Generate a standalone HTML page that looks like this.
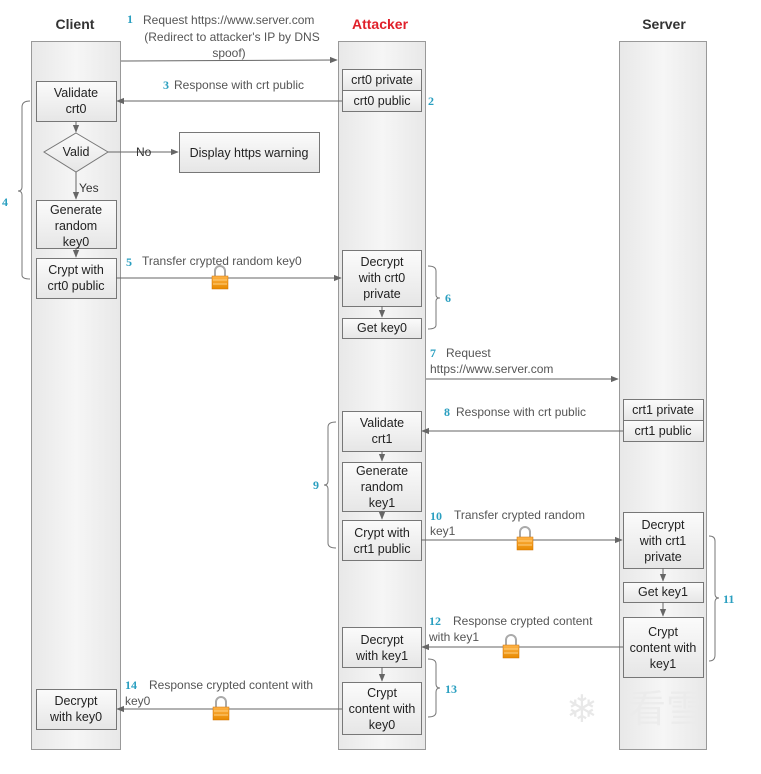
<!DOCTYPE html>
<html><head><meta charset="utf-8"><style>
body{margin:0;background:#fff;width:761px;height:769px;overflow:hidden}
svg{font-family:"Liberation Sans",Arial,sans-serif}
</style></head><body>
<svg width="761" height="769" viewBox="0 0 761 769" xmlns="http://www.w3.org/2000/svg">
<defs>
<linearGradient id="lane" x1="0" x2="1"><stop offset="0" stop-color="#e8e8e8"/><stop offset="0.5" stop-color="#f6f6f6"/><stop offset="1" stop-color="#e8e8e8"/></linearGradient>
<linearGradient id="box" x1="0" y1="0" x2="0" y2="1"><stop offset="0" stop-color="#fbfbfb"/><stop offset="1" stop-color="#e6e6e6"/></linearGradient>
<linearGradient id="lock" x1="0" y1="0" x2="0" y2="1"><stop offset="0" stop-color="#ffb347"/><stop offset="1" stop-color="#e88a00"/></linearGradient>
<marker id="ar" viewBox="0 0 10 10" refX="9" refY="5" markerWidth="8" markerHeight="8" orient="auto"><path d="M0,1 L10,5 L0,9 z" fill="#666"/></marker>
<g id="lk"><path d="M-5,0 v-5 a5,5 0 0 1 10,0 v5" fill="none" stroke="#aaa" stroke-width="2"/><rect x="-8" y="0" width="16" height="13" fill="url(#lock)" stroke="#d07000" stroke-width="0.5"/><line x1="-7" y1="4" x2="7" y2="4" stroke="#ffd080"/><line x1="-7" y1="8" x2="7" y2="8" stroke="#ffd080"/></g>
</defs>
<g stroke="#999" fill="url(#lane)">
<rect x="31.5" y="41.5" width="89" height="708"/>
<rect x="338.5" y="41.5" width="87" height="708"/>
<rect x="619.5" y="41.5" width="87" height="708"/>
</g>
<g font-weight="bold" font-size="14" text-anchor="middle">
<text x="75" y="29" fill="#333">Client</text>
<text x="380" y="29" fill="#e0202a">Attacker</text>
<text x="664" y="29" fill="#333">Server</text>
</g>
<g stroke="#777" fill="url(#box)">
<rect x="36.5" y="81.5" width="80" height="40"/>
<polygon points="76,133 108,152 76,172 44,152"/>
<rect x="179.5" y="132.5" width="140" height="40"/>
<rect x="36.5" y="200.5" width="80" height="48"/>
<rect x="36.5" y="258.5" width="80" height="40"/>
<rect x="36.5" y="689.5" width="80" height="40"/>
<rect x="342.5" y="69.5" width="79" height="21"/>
<rect x="342.5" y="90.5" width="79" height="21"/>
<rect x="342.5" y="250.5" width="79" height="56"/>
<rect x="342.5" y="318.5" width="79" height="20"/>
<rect x="342.5" y="411.5" width="79" height="40"/>
<rect x="342.5" y="462.5" width="79" height="49"/>
<rect x="342.5" y="520.5" width="79" height="40"/>
<rect x="342.5" y="627.5" width="79" height="40"/>
<rect x="342.5" y="682.5" width="79" height="52"/>
<rect x="623.5" y="399.5" width="80" height="21"/>
<rect x="623.5" y="420.5" width="80" height="21"/>
<rect x="623.5" y="512.5" width="80" height="56"/>
<rect x="623.5" y="582.5" width="80" height="20"/>
<rect x="623.5" y="617.5" width="80" height="60"/>
</g>
<g stroke="#666" stroke-width="1" marker-end="url(#ar)" fill="none">
<line x1="121" y1="61" x2="337" y2="60"/>
<line x1="342" y1="101" x2="117" y2="101"/>
<line x1="108" y1="152" x2="178" y2="152"/>
<line x1="116" y1="278" x2="341" y2="278"/>
<line x1="426" y1="379" x2="618" y2="379"/>
<line x1="623" y1="431" x2="422" y2="431"/>
<line x1="421" y1="540" x2="622" y2="540"/>
<line x1="623" y1="647" x2="422" y2="647"/>
<line x1="342" y1="709" x2="117" y2="709"/>
<line x1="76" y1="121" x2="76" y2="132"/>
<line x1="76" y1="172" x2="76" y2="199"/>
<line x1="76" y1="248" x2="76" y2="257"/>
<line x1="382" y1="306" x2="382" y2="317"/>
<line x1="382" y1="451" x2="382" y2="461"/>
<line x1="382" y1="511" x2="382" y2="519"/>
<line x1="382" y1="667" x2="382" y2="681"/>
<line x1="663" y1="568" x2="663" y2="581"/>
<line x1="663" y1="602" x2="663" y2="616"/>
</g>
<g stroke="#777" fill="none">
<path d="M30,101 q-8,0 -8,6 v80 q0,4 -4,4 q4,0 4,4 v80 q0,4 8,4"/>
<path d="M428,266 q8,0 8,5 v24 q0,3 4,3 q-4,0 -4,3 v24 q0,4 -8,4"/>
<path d="M336,422 q-8,0 -8,5 v54 q0,4 -4,4 q4,0 4,4 v54 q0,5 8,5"/>
<path d="M709,536 q6,0 6,5 v53 q0,4 4,4 q-4,0 -4,4 v53 q0,6 -6,6"/>
<path d="M428,659 q8,0 8,5 v20 q0,4 4,4 q-4,0 -4,4 v20 q0,5 -8,5"/>
</g>
<use href="#lk" x="220" y="276"/>
<use href="#lk" x="525" y="537"/>
<use href="#lk" x="511" y="645"/>
<use href="#lk" x="221" y="707"/>
<g font-size="12.5" fill="#222" text-anchor="middle">
<text x="76" y="97">Validate</text><text x="76" y="113">crt0</text>
<text x="76" y="156">Valid</text>
<text x="249" y="157">Display https warning</text>
<text x="76" y="214">Generate</text><text x="76" y="230">random</text><text x="76" y="246">key0</text>
<text x="76" y="274">Crypt with</text><text x="76" y="290">crt0 public</text>
<text x="76" y="705">Decrypt</text><text x="76" y="721">with key0</text>
<text x="382" y="84">crt0 private</text><text x="382" y="105">crt0 public</text>
<text x="382" y="266">Decrypt</text><text x="382" y="282">with crt0</text><text x="382" y="298">private</text>
<text x="382" y="332">Get key0</text>
<text x="382" y="427">Validate</text><text x="382" y="443">crt1</text>
<text x="382" y="475">Generate</text><text x="382" y="491">random</text><text x="382" y="507">key1</text>
<text x="382" y="537">Crypt with</text><text x="382" y="553">crt1 public</text>
<text x="382" y="644">Decrypt</text><text x="382" y="660">with key1</text>
<text x="382" y="697">Crypt</text><text x="382" y="713">content with</text><text x="382" y="729">key0</text>
<text x="663" y="414">crt1 private</text><text x="663" y="435">crt1 public</text>
<text x="663" y="529">Decrypt</text><text x="663" y="545">with crt1</text><text x="663" y="561">private</text>
<text x="663" y="596">Get key1</text>
<text x="663" y="636">Crypt</text><text x="663" y="652">content with</text><text x="663" y="668">key1</text>
</g>
<g font-size="12" fill="#555">
<text x="136" y="156" fill="#333">No</text>
<text x="79" y="192" fill="#333">Yes</text>
<text x="143" y="24">Request https://www.server.com</text>
<text x="232" y="41" text-anchor="middle">(Redirect to attacker's IP by DNS</text>
<text x="229" y="57" text-anchor="middle">spoof)</text>
<text x="174" y="89">Response with crt public</text>
<text x="142" y="265">Transfer crypted random key0</text>
<text x="446" y="357">Request</text>
<text x="430" y="373">https://www.server.com</text>
<text x="456" y="416">Response with crt public</text>
<text x="454" y="519">Transfer crypted random</text>
<text x="430" y="535">key1</text>
<text x="453" y="625">Response crypted content</text>
<text x="429" y="641">with key1</text>
<text x="149" y="689">Response crypted content with</text>
<text x="125" y="705">key0</text>
</g>
<g font-size="12" font-weight="bold" fill="#2a9fc0" font-family="Liberation Serif,serif">
<text x="127" y="23">1</text>
<text x="163" y="89">3</text>
<text x="126" y="266">5</text>
<text x="430" y="357">7</text>
<text x="444" y="416">8</text>
<text x="430" y="520">10</text>
<text x="429" y="625">12</text>
<text x="125" y="689">14</text>
<text x="428" y="105">2</text>
<text x="2" y="206">4</text>
<text x="445" y="302">6</text>
<text x="313" y="489">9</text>
<text x="723" y="603">11</text>
<text x="445" y="693">13</text>
</g>
<g fill="#fff" opacity="0.85" font-size="38" font-family="Noto Sans CJK SC,sans-serif">
<text x="566" y="722" fill="#e4e4e4">❄</text>
<text x="628" y="722" fill="#ebebeb">看雪</text>
</g>
</svg>
</body></html>
